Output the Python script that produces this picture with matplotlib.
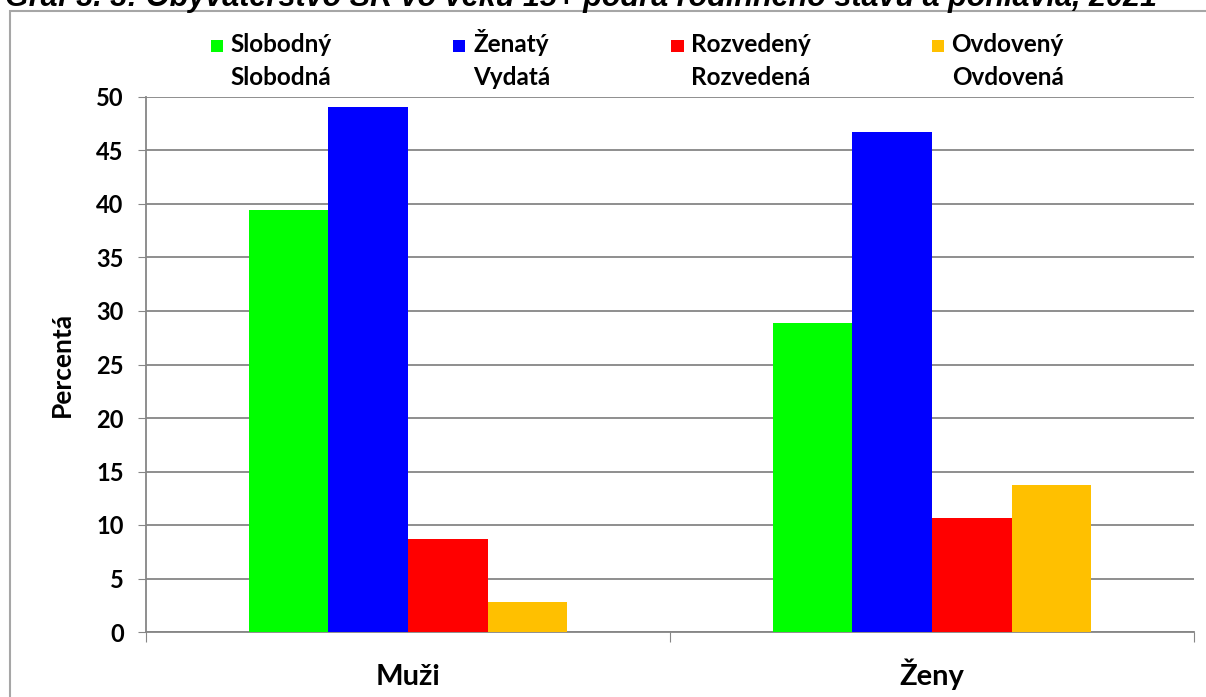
import numpy as np
import matplotlib.pyplot as plt
from matplotlib.patches import Rectangle
from matplotlib.container import BarContainer
from matplotlib.offsetbox import TextArea
from matplotlib.legend_handler import HandlerPatch, update_from_first_child

# Dáta
kategorie = ['Muži', 'Ženy']
stavy = ['Slobodný\nSlobodná', 'Ženatý\nVydatá', 'Rozvedený\nRozvedená', 'Ovdovený\nOvdovená']
farby = ['#00ff00', '#0000ff', '#ff0000', '#ffc000']
hodnoty = [
    [39.4, 28.9],   # slobodní
    [49.1, 46.7],   # ženatí / vydaté
    [8.7, 10.7],    # rozvedení
    [2.8, 13.7],    # ovdovení
]
titulok = 'Graf 3. 3: Obyvateľstvo SR vo veku 15+ podľa rodinného stavu a pohlavia, 2021'

plt.rcParams['font.family'] = ['Lato', 'DejaVu Sans']
plt.rcParams['font.weight'] = 'bold'
plt.rcParams['axes.labelweight'] = 'bold'

fig = plt.figure(figsize=(12.06, 6.97), dpi=100)
ax = fig.add_axes([146 / 1206, 1 - 632 / 697, 1048 / 1206, 535 / 697])

x = np.arange(len(kategorie))
sirka = 0.152
for i, (stav, farba) in enumerate(zip(stavy, farby)):
    ax.bar(x + (i - 1.5) * sirka, hodnoty[i], sirka, color=farba, label=stav, zorder=3)

ax.set_xlim(-0.5, 1.5)
ax.set_ylim(0, 50)
ax.set_yticks(np.arange(0, 51, 5))
ax.tick_params(axis='y', labelsize=17, length=6, color='#868686', pad=10)
for t in ax.get_yticklabels():
    t.set_fontweight('bold')
ax.grid(axis='y', color='#868686', linewidth=1.3, zorder=0)

# hranice kategórií ako hlavné ticky, názvy ako vedľajšie
ax.set_xticks([-0.5, 0.5, 1.5])
ax.set_xticklabels([])
ax.tick_params(axis='x', which='major', length=7, color='#868686')
ax.set_xticks(x, minor=True)
ax.set_xticklabels(kategorie, minor=True, fontsize=21, fontweight='bold', va='baseline')
ax.tick_params(axis='x', which='minor', length=0, pad=38)

for s in ['top', 'right']:
    ax.spines[s].set_visible(False)
for s in ['left', 'bottom']:
    ax.spines[s].set_color('#868686')
    ax.spines[s].set_linewidth(1.3)

ax.set_ylabel('Percentá', fontsize=19, labelpad=16)

# legenda: štvorček zarovnaný s prvým riadkom
posun = 24
def stvorec(legend, orig_handle, xdescent, ydescent, width, height, fontsize):
    return Rectangle((-xdescent, -ydescent + posun), width, width)

handles, labels = ax.get_legend_handles_labels()
leg = fig.legend(handles, labels, loc='center', bbox_to_anchor=(0.5286, 0.915),
                 ncol=4, frameon=False, fontsize=17.5, handlelength=0.5,
                 handletextpad=0.3, columnspacing=5.0,
                 handler_map={BarContainer: HandlerPatch(patch_func=stvorec,
                                                         update_func=update_from_first_child)})
for t in leg.get_texts():
    t.set_linespacing(1.55)
    t.set_multialignment('center')
# zarovnanie podľa posledného riadku (aby Ž nerozhodilo stĺpce)
for ta in leg.findobj(TextArea):
    ta._multilinebaseline = False

# nadpis (zhora orezaný)
fig.text(5 / 1206, 1 - 6 / 697, titulok, fontsize=22, fontstyle='italic',
         fontweight='bold', family=['Liberation Sans', 'DejaVu Sans'],
         ha='left', va='baseline')

# rámček grafu
fig.add_artist(Rectangle((10 / 1206, -0.1), 1.2, 1.1 - 11 / 697, transform=fig.transFigure,
                         fill=False, edgecolor='#a6a6a6', linewidth=1.5))

fig.savefig('out.png', dpi=100)
